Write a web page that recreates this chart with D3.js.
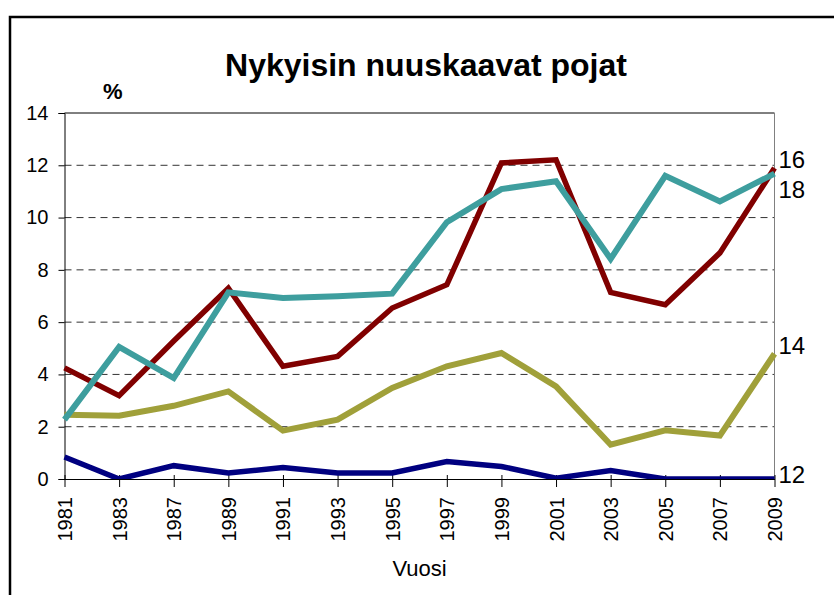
<!DOCTYPE html>
<html>
<head>
<meta charset="utf-8">
<script src="https://cdn.jsdelivr.net/npm/d3@7/dist/d3.min.js"></script>
<style>
  html, body { margin: 0; padding: 0; background: #fff; }
  svg { display: block; font-family: "Liberation Sans", Arial, sans-serif; }
  .grid line { stroke: #333; stroke-width: 1; stroke-dasharray: 7,5; }
  .axis path, .axis line { stroke: #000; stroke-width: 1; }
  .axis text { font-size: 20px; fill: #000; }
</style>
</head>
<body>
<svg width="834" height="595"></svg>
<script>
// vuodet (x-akseli)
const years = ["1981", "1983", "1987", "1989", "1991", "1993", "1995", "1997",
  "1999", "2001", "2003", "2005", "2007", "2009"];

// ikäryhmien osuudet, %
const age12 = [0.84, 0, 0.51, 0.23, 0.44, 0.23, 0.23, 0.67, 0.48, 0.03, 0.32, 0, 0, 0];
const age14 = [2.46, 2.42, 2.8, 3.35, 1.85, 2.27, 3.48, 4.31, 4.82, 3.54, 1.31, 1.86, 1.66, 4.79];
const age16 = [4.25, 3.19, 5.28, 7.3, 4.31, 4.69, 6.54, 7.43, 12.09, 12.21, 7.14, 6.67, 8.65, 11.9];
const age18 = [2.27, 5.05, 3.86, 7.14, 6.92, 6.99, 7.09, 9.82, 11.09, 11.39, 8.42, 11.6, 10.62, 11.68];

const yTicks = [0, 2, 4, 6, 8, 10, 12, 14];

const series = [
  { name: "12", values: age12, color: "#000080", width: 5.5, shift: -0.15 },
  { name: "14", values: age14, color: "#a0a03a", width: 6, shift: 0 },
  { name: "16", values: age16, color: "#800000", width: 5.5, shift: 0 },
  { name: "18", values: age18, color: "#3e9e9e", width: 6, shift: -0.92 }
];

const svg = d3.select("svg");
const margin = { top: 113, right: 60, bottom: 116, left: 64.5 };
const width = 774.5 - margin.left;
const height = 479 - margin.top;

// kehys koko kuvion ympärillä
svg.append("path")
  .attr("d", "M10,595 L10,17 L834,17")
  .attr("fill", "none")
  .attr("stroke", "#000")
  .attr("stroke-width", 2.5);

svg.append("text")
  .attr("x", 426)
  .attr("y", 76)
  .attr("text-anchor", "middle")
  .style("font-size", "32px")
  .style("font-weight", "bold")
  .text("Nykyisin nuuskaavat pojat");

svg.append("text")
  .attr("x", 103)
  .attr("y", 99)
  .style("font-size", "22px")
  .style("font-weight", "bold")
  .text("%");

const g = svg.append("g").attr("transform", `translate(${margin.left},${margin.top})`);

const x = d3.scalePoint().domain(years).range([0, width]);
const y = d3.scaleLinear().domain([0, 14]).range([height, 0]);

// katkoviivat
g.append("g")
  .attr("class", "grid")
  .selectAll("line")
  .data(yTicks.filter(d => d > 0 && d < 14))
  .join("line")
  .attr("x1", 0)
  .attr("x2", width)
  .attr("y1", d => y(d))
  .attr("y2", d => y(d));

// yläreuna ja oikea reuna
g.append("line")
  .attr("x1", 0).attr("x2", width)
  .attr("y1", y(14)).attr("y2", y(14))
  .attr("stroke", "#000");
g.append("line")
  .attr("x1", width).attr("x2", width)
  .attr("y1", y(14)).attr("y2", y(0))
  .attr("stroke", "#808080");

g.append("g")
  .attr("class", "axis")
  .call(d3.axisLeft(y).tickValues(yTicks).tickSize(6).tickPadding(10));

const xAxis = g.append("g")
  .attr("class", "axis")
  .attr("transform", `translate(0,${height})`)
  .call(d3.axisBottom(x).tickSize(8).tickSizeOuter(0));
xAxis.selectAll(".tick line").attr("y1", -4);
xAxis.selectAll(".tick text")
  .attr("transform", "rotate(-90)")
  .attr("text-anchor", "end")
  .attr("x", -18)
  .attr("y", 0)
  .attr("dy", "0.35em");

g.append("text")
  .attr("x", width / 2)
  .attr("y", 97 + height)
  .attr("text-anchor", "middle")
  .style("font-size", "22px")
  .text("Vuosi");

// viivat leikataan kuva-alueeseen
svg.append("defs").append("clipPath")
  .attr("id", "plot-clip")
  .append("rect")
  .attr("x", -10).attr("y", -10)
  .attr("width", width + 20).attr("height", height + 10);

const line = d3.line()
  .x((d, i) => x(years[i]))
  .y(d => y(d));

g.append("g")
  .attr("clip-path", "url(#plot-clip)")
  .selectAll("path")
  .data(series)
  .join("path")
  .attr("fill", "none")
  .attr("stroke", d => d.color)
  .attr("stroke-width", d => d.width)
  .attr("stroke-linejoin", "miter")
  .attr("d", d => line(d.values));

// ikäryhmien nimet viivojen päässä
g.selectAll(".series-label")
  .data(series)
  .join("text")
  .attr("class", "series-label")
  .attr("x", width + 4)
  .attr("y", d => y(d.values[d.values.length - 1] + d.shift))
  .style("font-size", "24px")
  .text(d => d.name);
</script>
</body>
</html>
